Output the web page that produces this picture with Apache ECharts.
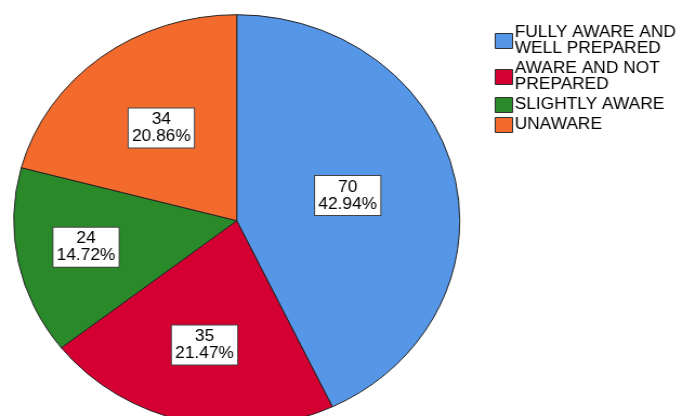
<!DOCTYPE html>
<html>
<head>
<meta charset="utf-8">
<script src="https://cdn.jsdelivr.net/npm/echarts@6/dist/echarts.min.js"></script>
<style>
html,body{margin:0;padding:0;background:#fff;overflow:hidden;}
#wrap{width:689px;height:416px;overflow:hidden;position:relative;}
#chart{width:637px;height:416px;transform:scaleX(1.0825);transform-origin:0 0;}
</style>
</head>
<body>
<div id="wrap"><div id="chart"></div></div>
<script>
const categories = ['FULLY AWARE AND\nWELL PREPARED', 'AWARE AND NOT\nPREPARED', 'SLIGHTLY AWARE', 'UNAWARE'];
const counts = [70, 35, 24, 34];
const colors = ['#5596E6', '#D50032', '#2A8A2A', '#F26B2D'];
const labelRadiusFrac = [0.51, 0.63, 0.69, 0.555];

const total = counts.reduce((a, b) => a + b, 0);
const CX = 218.7, CY = 220.7, R = 206;

function midAngle(i) {
  let before = 0;
  for (let k = 0; k < i; k++) before += counts[k];
  return ((before + counts[i] / 2) / total) * 2 * Math.PI;
}

const chart = echarts.init(document.getElementById('chart'), null, {renderer: 'canvas'});
chart.setOption({
  animation: false,
  legend: {
    orient: 'vertical',
    left: 457,
    top: 25,
    padding: 0,
    itemWidth: 16,
    itemHeight: 15,
    itemGap: 4,
    icon: 'rect',
    selectedMode: false,
    itemStyle: {borderColor: '#333', borderWidth: 1},
    textStyle: {
      fontFamily: 'Liberation Sans, Arial, sans-serif',
      fontSize: 16,
      lineHeight: 16,
      color: '#000',
      padding: [0, 0, 0, -3]
    },
    data: categories
  },
  series: [{
    type: 'pie',
    center: [CX, CY],
    radius: [0, R],
    startAngle: 90,
    clockwise: true,
    avoidLabelOverlap: false,
    itemStyle: {borderColor: '#222', borderWidth: 1},
    emphasis: {disabled: true},
    label: {
      show: true,
      position: 'inside',
      formatter: p => p.value + '\n' + (p.value / total * 100).toFixed(2) + '%',
      fontFamily: 'Liberation Sans, Arial, sans-serif',
      fontSize: 16,
      lineHeight: 17,
      color: '#000',
      backgroundColor: '#fff',
      borderColor: '#444',
      borderWidth: 1,
      padding: [3, 3, 2, 3],
      align: 'center'
    },
    labelLine: {show: false},
    labelLayout: function (params) {
      const i = params.dataIndex;
      const a = midAngle(i);
      const f = labelRadiusFrac[i];
      return {
        x: CX + f * R * Math.sin(a),
        y: CY - 2 - f * R * Math.cos(a),
        align: 'center',
        verticalAlign: 'middle'
      };
    },
    data: categories.map((c, i) => ({name: c, value: counts[i], itemStyle: {color: colors[i]}}))
  }]
});
</script>
</body>
</html>
